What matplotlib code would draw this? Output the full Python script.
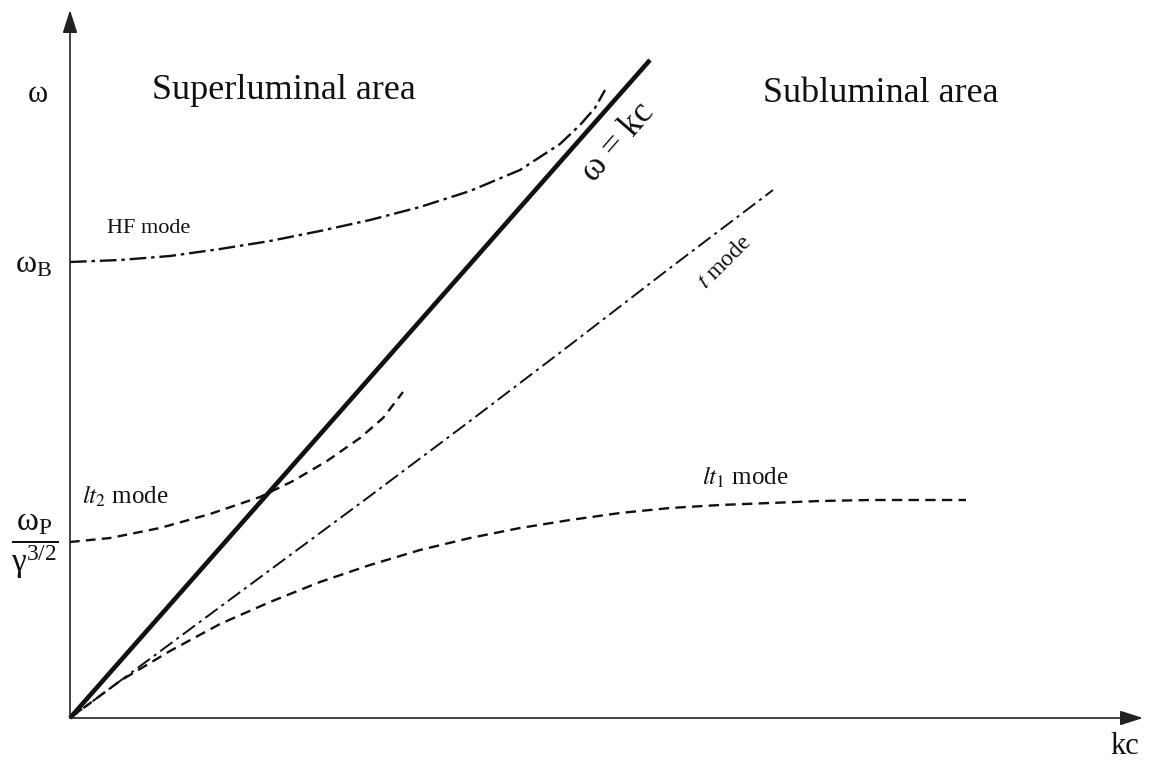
import numpy as np
import matplotlib
matplotlib.use("Agg")
import matplotlib.pyplot as plt

plt.rcParams["font.family"] = ["Liberation Serif", "DejaVu Serif"]
plt.rcParams["mathtext.fontset"] = "stix"
plt.rcParams["mathtext.default"] = "regular"
plt.rcParams["lines.scale_dashes"] = False

# curves (kc, omega), arbitrary units
light_kc = [0.0, 5.80]
light_w = [0.0, 6.58]

hf_kc = [0.0, 0.5, 1.0, 1.5, 2.0, 2.5, 3.0, 3.5, 4.0, 4.5, 4.9, 5.1, 5.25, 5.35]
hf_w = [4.56, 4.58, 4.62, 4.69, 4.77, 4.87, 4.98, 5.11, 5.27, 5.48, 5.74, 5.93, 6.10, 6.28]

t_kc = [0.0, 1.0, 2.0, 3.0, 4.0, 5.0, 6.0, 7.03]
t_w = [0.0, 0.74, 1.48, 2.22, 2.97, 3.73, 4.50, 5.28]

lt2_kc = [0.0, 0.4, 0.9, 1.4, 1.9, 2.23, 2.57, 2.9, 3.13, 3.33]
lt2_w = [1.76, 1.80, 1.90, 2.04, 2.21, 2.37, 2.57, 2.80, 3.00, 3.26]

lt1_kc = [0.0, 0.5, 1.0, 1.5, 2.0, 2.5, 3.0, 3.5, 4.0, 4.5, 5.0, 5.5,
          6.0, 6.5, 7.0, 7.5, 8.0, 8.5, 8.96]
lt1_w = [0.0, 0.37, 0.67, 0.94, 1.16, 1.36, 1.53, 1.68, 1.80, 1.90, 1.98, 2.05,
         2.10, 2.13, 2.15, 2.17, 2.18, 2.18, 2.18]

fig = plt.figure(figsize=(11.51, 7.66), dpi=100)
ax = fig.add_axes([0, 0, 1, 1])
ax.set_xlim(-0.70, 10.81)
ax.set_ylim(-0.48, 7.18)
ax.axis("off")

# axes with arrows
ax.annotate("", xy=(0, 7.08), xytext=(0, 0),
            arrowprops=dict(arrowstyle="-|>,head_length=1.4,head_width=0.45",
                            color="#222222", lw=1.2, shrinkA=0, shrinkB=0))
ax.annotate("", xy=(10.73, 0), xytext=(0, 0),
            arrowprops=dict(arrowstyle="-|>,head_length=1.4,head_width=0.45",
                            color="#222222", lw=1.2, shrinkA=0, shrinkB=0))

k = "#111111"
ax.plot(light_kc, light_w, color=k, lw=3.3, solid_capstyle="butt")
ax.plot(hf_kc, hf_w, color=k, lw=1.7, dashes=(12, 3.5, 2.5, 3.5))
ax.plot(t_kc, t_w, color=k, lw=1.4, dashes=(11, 3.5, 2.2, 3.5))
ax.plot(lt2_kc, lt2_w, color=k, lw=1.7, dashes=(7, 4.5))
ax.plot(lt1_kc, lt1_w, color=k, lw=1.7, dashes=(7.5, 4.5))

ax.text(-0.32, 6.23, "ω", fontsize=22, ha="center", va="center", color=k)
ax.text(0.82, 6.28, "Superluminal area", fontsize=26, ha="left", va="center", color=k)
ax.text(6.93, 6.25, "Subluminal area", fontsize=26, ha="left", va="center", color=k)
ax.text(0.37, 4.90, "HF mode", fontsize=16, ha="left", va="center", color=k)
ax.text(-0.36, 4.53, r"$\omega_{B}$", fontsize=23, ha="center", va="center", color=k)
ax.text(0.12, 2.22, r"$\mathit{lt_2}$ mode", fontsize=18, ha="left", va="center", color=k)
ax.text(-0.35, 1.72, r"$\dfrac{\omega_{P}}{\gamma^{3/2}}$", fontsize=24,
        ha="center", va="center", color=k)
ax.text(6.32, 2.41, r"$\mathit{lt_1}$ mode", fontsize=18, ha="left", va="center", color=k)
ax.text(6.55, 4.56, r"$\mathit{t}$ mode", fontsize=17, ha="center", va="center",
        rotation=45, color=k)
ax.text(5.48, 5.76, "ω = kc", fontsize=25, ha="center", va="center",
        rotation=49, color=k)
ax.text(10.55, -0.28, "kc", fontsize=22, ha="center", va="center", color=k)

fig.savefig("out.png", dpi=100)
